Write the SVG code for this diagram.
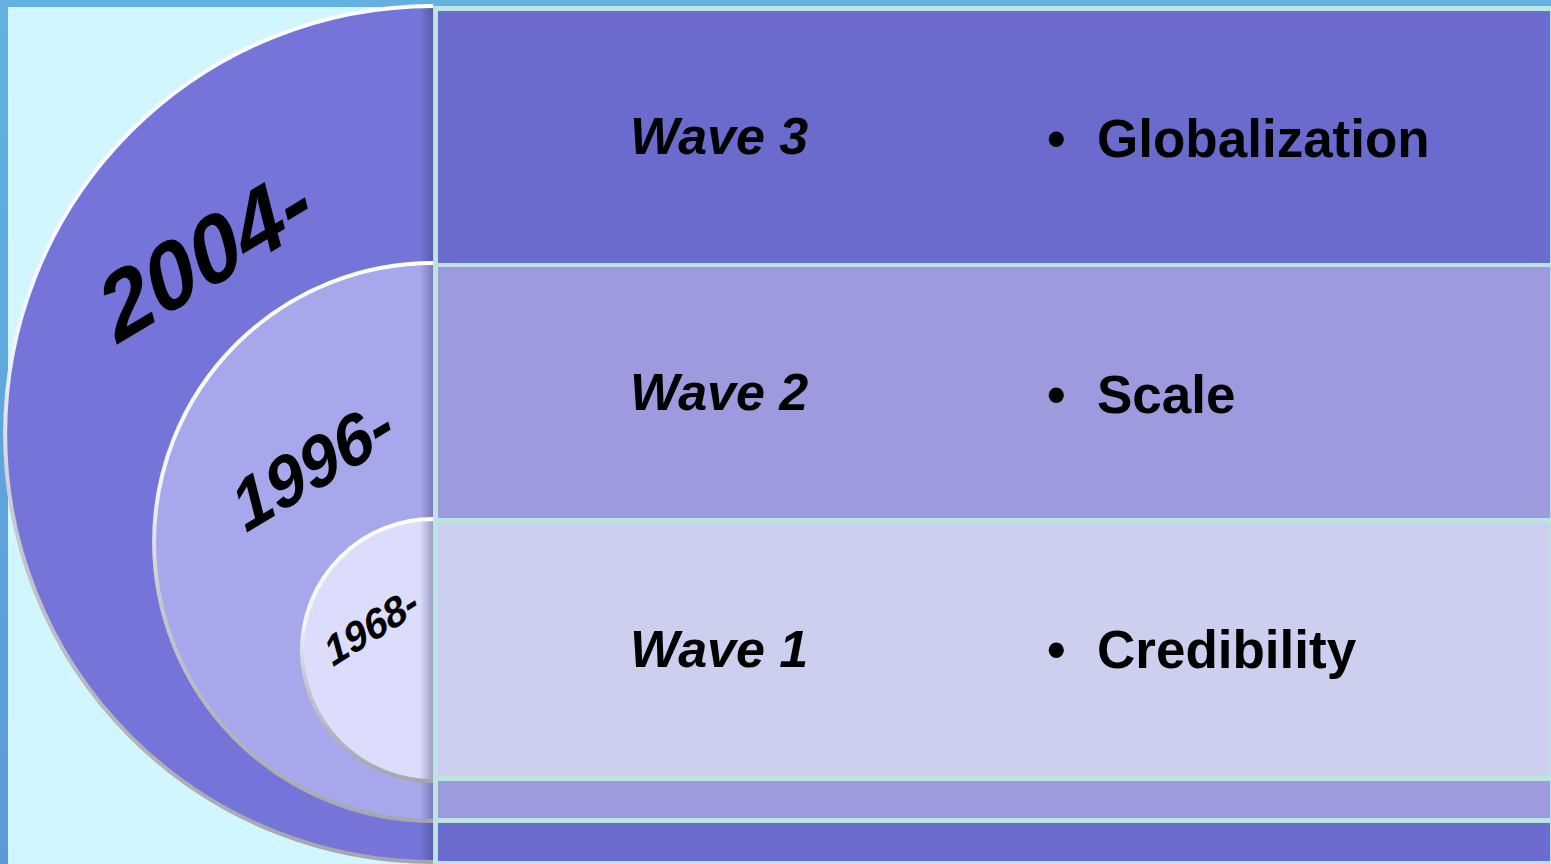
<svg xmlns="http://www.w3.org/2000/svg" width="1551" height="864" viewBox="0 0 1551 864">
  <defs>
    <style>
      .wave { font-family: "Liberation Sans", Arial, sans-serif; font-weight: bold; font-style: italic; font-size: 52px; fill: #000; }
      .item { font-family: "Liberation Sans", Arial, sans-serif; font-weight: bold; font-size: 53px; fill: #000; }
      .year { font-family: "Liberation Sans", Arial, sans-serif; font-weight: bold; font-style: italic; fill: #000; }
      .rim { fill: none; stroke: url(#rimGrad); stroke-width: 4; }
      .shade { fill: url(#edgeShade); }
    </style>
    <linearGradient id="rimGrad" x1="0" y1="0" x2="0" y2="1">
      <stop offset="0" stop-color="#ffffff"/>
      <stop offset="0.4" stop-color="#f4f4ff"/>
      <stop offset="0.6" stop-color="#c8c8d0"/>
      <stop offset="1" stop-color="#a6a6ae"/>
    </linearGradient>
    <linearGradient id="edgeShade" gradientUnits="userSpaceOnUse" x1="420" y1="0" x2="433" y2="0">
      <stop offset="0" stop-color="#2a2a60" stop-opacity="0"/>
      <stop offset="1" stop-color="#2a2a60" stop-opacity="0.35"/>
    </linearGradient>
    <linearGradient id="leftStrip" x1="0" y1="0" x2="0" y2="1">
      <stop offset="0" stop-color="#62b1e0"/>
      <stop offset="0.5" stop-color="#5fa6dc"/>
      <stop offset="1" stop-color="#5b9ad6"/>
    </linearGradient>
  </defs>

  <!-- background -->
  <rect x="0" y="0" width="1551" height="864" fill="#d2f6fd"/>
  <rect x="0" y="0" width="1551" height="7" fill="#62b1e0"/>
  <rect x="0" y="0" width="8" height="864" fill="url(#leftStrip)"/>

  <!-- bars -->
  <g id="bars">
    <rect x="433" y="6" width="1118" height="858" fill="#bde3e3"/>
    <g id="row-wave3"><rect x="438" y="11" width="1112" height="252" fill="#6b6bcd"/></g>
    <g id="row-wave2"><rect x="438" y="267" width="1112" height="251" fill="#9d9bdd"/></g>
    <g id="row-wave1"><rect x="438" y="523" width="1112" height="253" fill="#cdcfee"/></g>
    <g id="row-extra1"><rect x="438" y="781" width="1112" height="37" fill="#9d9bdd"/></g>
    <g id="row-extra2"><rect x="438" y="823" width="1112" height="38" fill="#6b6bcd"/></g>
  </g>

  <!-- semicircles -->
  <g id="arc-2004">
    <path d="M433,6 A428,428 0 0 0 433,862 Z" fill="#7575d9"/>
    <path d="M433,6 A428,428 0 0 0 433,862 Z" class="shade"/>
    <path d="M433,6 A428,428 0 0 0 433,862" class="rim"/>
    <text class="year" font-size="92" transform="translate(118,344) rotate(-31) skewX(-6)">2004-</text>
  </g>
  <g id="arc-1996">
    <path d="M433,263 A279,279 0 0 0 433,821 Z" fill="#a7a7ec"/>
    <path d="M433,263 A279,279 0 0 0 433,821 Z" class="shade"/>
    <path d="M433,263 A279,279 0 0 0 433,821" class="rim"/>
    <text class="year" font-size="70" transform="translate(246,533) rotate(-31) skewX(-6)">1996-</text>
  </g>
  <g id="arc-1968">
    <path d="M433,519 A131,131 0 0 0 433,781 Z" fill="#dcdcfc"/>
    <path d="M433,519 A131,131 0 0 0 433,781 Z" class="shade"/>
    <path d="M433,519 A131,131 0 0 0 433,781" class="rim"/>
    <text class="year" font-size="41" transform="translate(333,667) rotate(-32) skewX(-6)">1968-</text>
  </g>

  <!-- labels -->
  <g id="label-wave3">
    <text class="wave" x="630" y="154">Wave 3</text>
    <text class="item" y="157"><tspan x="1047">•</tspan><tspan x="1097">Globalization</tspan></text>
  </g>
  <g id="label-wave2">
    <text class="wave" x="630" y="410">Wave 2</text>
    <text class="item" y="413"><tspan x="1047">•</tspan><tspan x="1097">Scale</tspan></text>
  </g>
  <g id="label-wave1">
    <text class="wave" x="630" y="667">Wave 1</text>
    <text class="item" y="668"><tspan x="1047">•</tspan><tspan x="1097">Credibility</tspan></text>
  </g>

  <g id="connectors"></g>
</svg>
